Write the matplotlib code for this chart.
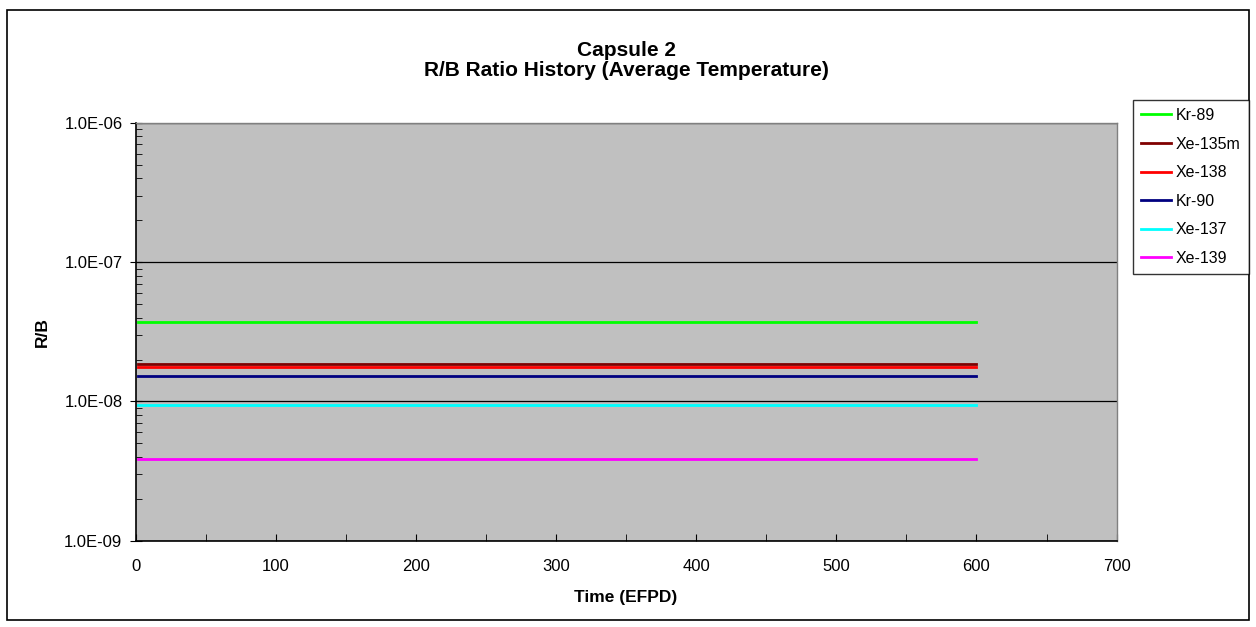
import numpy as np
import matplotlib
matplotlib.use("Agg")
import matplotlib.pyplot as plt
from matplotlib.ticker import LogLocator, MultipleLocator, FuncFormatter, NullFormatter
from matplotlib.patches import Rectangle

plt.rcParams['font.family'] = ['Liberation Sans', 'DejaVu Sans']

# data
time = [2, 600]
isotopes = ['Kr-89', 'Xe-135m', 'Xe-138', 'Kr-90', 'Xe-137', 'Xe-139']
rb = [3.73e-8, 1.86e-8, 1.78e-8, 1.53e-8, 9.36e-9, 3.88e-9]
colors = ['#00ff00', '#800000', '#ff0000', '#000080', '#00ffff', '#ff00ff']


def sci_label(v, p):
    # Excel-style 1.0E-07, only for ticks inside the view
    if v < 0.99e-9 or v > 1.01e-6:
        return ''
    return '1.0E%03d' % int(round(np.log10(v)))


fig = plt.figure(figsize=(12.56, 6.27), dpi=100)
fig.patches.append(Rectangle((7 / 1256, 7 / 627), 1242 / 1256, 610 / 627,
                             transform=fig.transFigure, fill=False,
                             edgecolor='black', linewidth=1.2))

ax = fig.add_axes([0.108, 0.1376, 0.781, 0.6664])
ax.set_facecolor('#c0c0c0')

for name, val, c in zip(isotopes, rb, colors):
    ax.plot(time, [val, val], color=c, linewidth=2, label=name, zorder=3)

ax.set_yscale('log')
ax.set_ylim(1e-9, 1e-6)
ax.set_xlim(0, 700)
ax.xaxis.set_major_locator(MultipleLocator(100))
ax.xaxis.set_minor_locator(MultipleLocator(50))
ax.yaxis.set_major_locator(LogLocator(base=10))
ax.yaxis.set_minor_locator(LogLocator(base=10, subs=np.arange(2, 10)))
ax.yaxis.set_major_formatter(FuncFormatter(sci_label))
ax.yaxis.set_minor_formatter(NullFormatter())
ax.grid(axis='y', which='major', color='black', linewidth=0.9, zorder=1)
ax.set_axisbelow(True)

ax.tick_params(axis='x', which='both', direction='in', length=5, labelsize=12, pad=13.5)
ax.tick_params(axis='y', which='major', direction='inout', length=8, labelsize=12, pad=5.5)
ax.tick_params(axis='y', which='minor', direction='in', length=4)

for s in ['left', 'bottom']:
    ax.spines[s].set_color('black')
    ax.spines[s].set_linewidth(1.2)
for s in ['top', 'right']:
    ax.spines[s].set_color('#808080')
    ax.spines[s].set_linewidth(1.0)

ax.set_xlabel('Time (EFPD)', fontsize=12.5, fontweight='bold', labelpad=11)
ax.set_ylabel('R/B', fontsize=12.5, fontweight='bold', labelpad=10)
fig.text(0.4985, 1 - 51 / 627, 'Capsule 2', ha='center', va='center', fontsize=15, fontweight='bold')
fig.text(0.4985, 1 - 71 / 627, 'R/B Ratio History (Average Temperature)', ha='center', va='center',
         fontsize=15, fontweight='bold')

leg = fig.legend(loc='upper left', bbox_to_anchor=(1133 / 1256, 1 - 100 / 627),
                 fontsize=11.5, frameon=True, fancybox=False, handlelength=1.9,
                 handletextpad=0.3, labelspacing=0.85, borderpad=0.5, borderaxespad=0)
leg.get_frame().set_edgecolor('black')
leg.get_frame().set_linewidth(1.0)

fig.savefig('out.png', dpi=100)
